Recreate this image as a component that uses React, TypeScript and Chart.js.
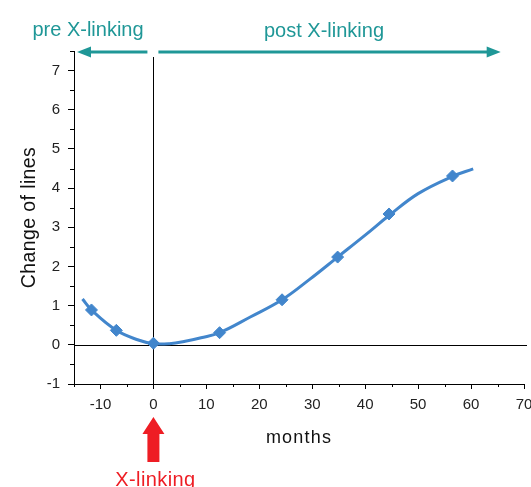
import { useEffect, useRef } from 'react';
import { Chart, registerables } from 'chart.js';

Chart.register(...registerables);

// measured data (diamonds)
const measuredMonths = [-11.7, -7, 0, 12.5, 24.3, 34.8, 44.5, 56.5];
const measuredChange = [0.89, 0.37, 0.04, 0.31, 1.15, 2.24, 3.34, 4.31];
// fitted curve
const fitMonths = [-13.4, -11.7, -7, -3, 0, 3, 6, 9, 12.5, 18.3, 24.3, 29.5, 34.8, 40, 44.5, 50, 56.5, 60.4];
const fitChange = [1.17, 0.89, 0.37, 0.13, 0.03, 0.03, 0.09, 0.18, 0.31, 0.71, 1.15, 1.67, 2.24, 2.8, 3.3, 3.86, 4.3, 4.49];

const xMin = -15;
const xMax = 70;
const yMin = -1;
const yMax = 7.5;
const xMinorTicks = [-15, -5, 5, 15, 25, 35, 45, 55, 65];
const yMinorTicks = [-0.5, 0.5, 1.5, 2.5, 3.5, 4.5, 5.5, 6.5, 7.5];

const FONT = '"Liberation Sans", Arial, sans-serif';
const TEAL = '#1f9797';
const RED = '#ee1d24';
const BLUE = '#4286cc';

function arrow(ctx: CanvasRenderingContext2D, xFrom: number, xTo: number, yy: number) {
  const dir = Math.sign(xTo - xFrom);
  const headLen = 14;
  const halfH = 5.5;
  ctx.beginPath();
  ctx.moveTo(xFrom, yy);
  ctx.lineTo(xTo - dir * headLen * 0.8, yy);
  ctx.stroke();
  ctx.beginPath();
  ctx.moveTo(xTo, yy);
  ctx.lineTo(xTo - dir * headLen, yy - halfH);
  ctx.lineTo(xTo - dir * headLen, yy + halfH);
  ctx.closePath();
  ctx.fill();
}

const annotationPlugin = {
  id: 'annotations',
  beforeDatasetsDraw(chart: any) {
    const { ctx, chartArea: a, scales } = chart;
    const x = scales.x;
    const y = scales.y;
    ctx.save();
    ctx.strokeStyle = '#000';
    ctx.lineWidth = 1;
    const y0 = Math.round(y.getPixelForValue(0)) + 0.5;
    const x0 = Math.round(x.getPixelForValue(0)) + 0.5;
    ctx.beginPath();
    ctx.moveTo(a.left, y0);
    ctx.lineTo(a.right + 3, y0);
    ctx.moveTo(x0, a.top + 6);
    ctx.lineTo(x0, a.bottom);
    ctx.stroke();
    // minor ticks
    ctx.beginPath();
    for (const v of yMinorTicks) {
      const py = Math.round(y.getPixelForValue(v)) + 0.5;
      ctx.moveTo(a.left - 4, py);
      ctx.lineTo(a.left, py);
    }
    for (const v of xMinorTicks) {
      const px = Math.round(x.getPixelForValue(v)) + 0.5;
      ctx.moveTo(px, a.bottom);
      ctx.lineTo(px, a.bottom + 3);
    }
    ctx.stroke();
    ctx.restore();
  },
  afterDraw(chart: any) {
    const { ctx, chartArea: a, scales } = chart;
    const x = scales.x;
    const x0 = x.getPixelForValue(0);
    ctx.save();
    // teal arrows
    ctx.strokeStyle = TEAL;
    ctx.fillStyle = TEAL;
    ctx.lineWidth = 3;
    const ay = a.top + 1;
    arrow(ctx, x0 - 6, a.left + 3, ay);
    arrow(ctx, x0 + 5, x.getPixelForValue(65.6), ay);
    ctx.font = `20px ${FONT}`;
    ctx.textAlign = 'center';
    ctx.textBaseline = 'alphabetic';
    ctx.fillText('pre X-linking', 88, 36);
    ctx.fillText('post X-linking', 324, 37);
    // red arrow
    ctx.fillStyle = RED;
    ctx.beginPath();
    const cx = x0;
    ctx.moveTo(cx, a.bottom + 33);
    ctx.lineTo(cx + 11, a.bottom + 50);
    ctx.lineTo(cx + 6, a.bottom + 50);
    ctx.lineTo(cx + 6, a.bottom + 78);
    ctx.lineTo(cx - 6, a.bottom + 78);
    ctx.lineTo(cx - 6, a.bottom + 50);
    ctx.lineTo(cx - 11, a.bottom + 50);
    ctx.closePath();
    ctx.fill();
    ctx.font = `20px ${FONT}`;
    (ctx as any).letterSpacing = '0.4px';
    ctx.fillText('X-linking', cx + 2, 486);
    // axis titles
    ctx.fillStyle = '#111';
    ctx.font = `18px ${FONT}`;
    (ctx as any).letterSpacing = '1.2px';
    ctx.fillText('months', (a.left + a.right) / 2, 443);
    (ctx as any).letterSpacing = '0.4px';
    ctx.font = `19.5px ${FONT}`;
    ctx.translate(35, (a.top + a.bottom) / 2);
    ctx.rotate(-Math.PI / 2);
    ctx.fillText('Change of lines', 0, 0);
    ctx.restore();
  },
};

export default function App() {
  const ref = useRef<HTMLCanvasElement | null>(null);
  useEffect(() => {
    if (!ref.current) return;
    const chart = new Chart(ref.current, {
      type: 'scatter',
      data: {
        datasets: [
          {
            label: 'fit',
            data: fitMonths.map((m, i) => ({ x: m, y: fitChange[i] })),
            showLine: true,
            borderColor: BLUE,
            borderWidth: 3,
            pointRadius: 0,
            tension: 0.4,
          },
          {
            label: 'measured',
            data: measuredMonths.map((m, i) => ({ x: m, y: measuredChange[i] })),
            showLine: false,
            pointStyle: 'rectRot',
            pointRadius: 6,
            backgroundColor: BLUE,
            borderColor: BLUE,
            borderWidth: 1,
          },
        ],
      },
      options: {
        responsive: false,
        animation: false,
        layout: { padding: { top: 51, right: 7, left: 0, bottom: 0 } },
        plugins: { legend: { display: false }, tooltip: { enabled: false } },
        scales: {
          x: {
            type: 'linear',
            min: xMin,
            max: xMax,
            position: 'bottom',
            border: { display: true, color: '#000', width: 1 },
            grid: {
              drawOnChartArea: false,
              drawTicks: true,
              tickLength: 5,
              tickColor: (c: any) => (c.tick && c.tick.value % 10 === 0 ? '#000' : 'transparent'),
            },
            ticks: {
              stepSize: 5,
              padding: 7,
              color: '#222',
              font: { family: FONT, size: 15 },
              maxRotation: 0,
              autoSkip: false,
              callback: (v: any) => (Number(v) % 10 === 0 ? String(v) : ''),
            },
            afterFit: (s: any) => {
              s.height = 487 - 384;
              s.paddingLeft = 0;
              s.paddingRight = 0;
            },
          },
          y: {
            type: 'linear',
            min: yMin,
            max: yMax,
            border: { display: true, color: '#000', width: 1 },
            grid: {
              drawOnChartArea: false,
              drawTicks: true,
              tickLength: 6,
              tickColor: (c: any) => (c.tick && Number.isInteger(c.tick.value) ? '#000' : 'transparent'),
            },
            ticks: {
              stepSize: 0.5,
              padding: 8,
              color: '#222',
              font: { family: FONT, size: 15 },
              autoSkip: false,
              callback: (v: any) => (Number.isInteger(Number(v)) ? String(v) : ''),
            },
            afterFit: (s: any) => {
              s.width = 74;
              s.paddingTop = 0;
              s.paddingBottom = 0;
            },
          },
        },
      },
      plugins: [annotationPlugin],
    });
    return () => chart.destroy();
  }, []);
  return (
    <div style={{ position: 'fixed', left: 0, top: 0, width: 531, height: 487, background: '#fff' }}>
      <canvas ref={ref} width={531} height={487} style={{ display: 'block', width: 531, height: 487 }} />
    </div>
  );
}
